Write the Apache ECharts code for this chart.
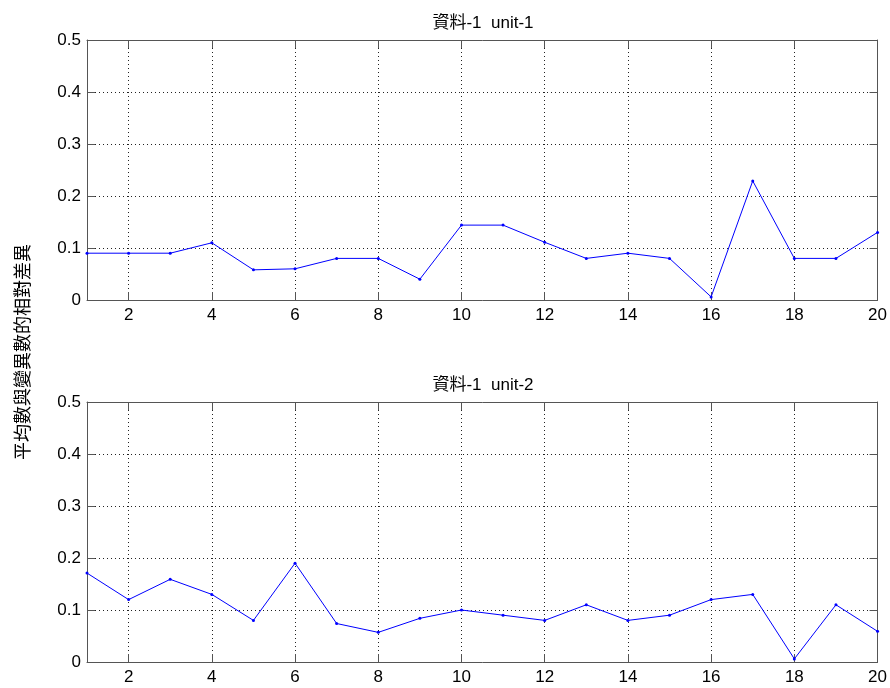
<!DOCTYPE html>
<html>
<head>
<meta charset="utf-8">
<script src="https://cdn.jsdelivr.net/npm/echarts@6/dist/echarts.min.js"></script>
<style>
  html, body { margin: 0; padding: 0; background: #fff; }
  #chart { width: 890px; height: 688px; }
</style>
</head>
<body>
<div id="chart"></div>
<script>
// Relative difference between mean and variance, two units of dataset 1
const xValues = [1, 2, 3, 4, 5, 6, 7, 8, 9, 10, 11, 12, 13, 14, 15, 16, 17, 18, 19, 20];
const unit1 = [0.09, 0.09, 0.09, 0.11, 0.058, 0.06, 0.08, 0.08, 0.04, 0.144,
               0.144, 0.111, 0.08, 0.09, 0.08, 0.006, 0.229, 0.08, 0.08, 0.13];
const unit2 = [0.171, 0.12, 0.159, 0.13, 0.08, 0.19, 0.074, 0.057, 0.084, 0.10,
               0.09, 0.08, 0.11, 0.08, 0.09, 0.12, 0.13, 0.006, 0.11, 0.059];
const xTicks = [2, 4, 6, 8, 10, 12, 14, 16, 18, 20];
const titles = ['資料-1  unit-1', '資料-1  unit-2'];
const yLabel = '平均數與變異數的相對差異';

const boxColor = '#555';
const textFont = "'Liberation Sans', Arial, sans-serif";
const titleFont = "'Liberation Sans', 'Noto Sans CJK TC', sans-serif";
const cjkFont = "'Noto Sans CJK TC', sans-serif";

const grids = [
  { left: 87, right: 10, top: 40, height: 260 },
  { left: 87, right: 10, top: 402, height: 260 }
];

function xAxisFor(gridIndex, isTop) {
  return {
    type: 'value', gridIndex, min: 1, max: 20,
    position: isTop ? 'top' : 'bottom',
    axisLine: { show: true, onZero: false, lineStyle: { color: boxColor, width: 1 } },
    axisTick: { show: true, inside: true, length: 8, customValues: xTicks,
                lineStyle: { color: boxColor } },
    axisLabel: { show: !isTop, customValues: xTicks, color: '#000', fontSize: 17,
                 fontFamily: textFont, margin: 7 },
    splitLine: { show: !isTop, lineStyle: { color: '#222', type: [1, 3], width: 1 } }
  };
}
function yAxisFor(gridIndex, isRight) {
  return {
    type: 'value', gridIndex, min: 0, max: 0.5, interval: 0.1,
    position: isRight ? 'right' : 'left',
    axisLine: { show: true, onZero: false, lineStyle: { color: boxColor, width: 1 } },
    axisTick: { show: true, inside: true, length: 8, lineStyle: { color: boxColor } },
    axisLabel: { show: !isRight, color: '#000', fontSize: 17, fontFamily: textFont, margin: 6,
                 formatter: v => String(Math.round(v * 10) / 10) },
    splitLine: { show: !isRight, lineStyle: { color: '#222', type: [1, 3], width: 1 } }
  };
}

function lineSeries(idx, values) {
  return {
    type: 'line', xAxisIndex: idx * 2, yAxisIndex: idx * 2,
    data: xValues.map((x, i) => [x, values[i]]),
    symbol: 'circle', symbolSize: 3, showSymbol: true,
    lineStyle: { color: '#0000ff', width: 1 },
    itemStyle: { color: '#0000ff' },
    emphasis: { disabled: true }, animation: false
  };
}

const chart = echarts.init(document.getElementById('chart'), null, { renderer: 'canvas' });
chart.setOption({
  backgroundColor: '#fff',
  animation: false,
  title: titles.map((t, i) => ({
    text: t, left: 478, top: i === 0 ? 10 : 372, textAlign: 'center',
    textStyle: { fontSize: 17, fontWeight: 'normal', color: '#000', fontFamily: titleFont }
  })),
  grid: grids,
  xAxis: [xAxisFor(0, false), xAxisFor(0, true), xAxisFor(1, false), xAxisFor(1, true)],
  yAxis: [yAxisFor(0, false), yAxisFor(0, true), yAxisFor(1, false), yAxisFor(1, true)],
  series: [lineSeries(0, unit1), lineSeries(1, unit2)],
  graphic: [{
    type: 'text', x: 22, y: 352, rotation: Math.PI / 2,
    style: { text: yLabel, fontSize: 18, fill: '#000', fontFamily: cjkFont,
             align: 'center', verticalAlign: 'middle' }
  }]
});
</script>
</body>
</html>
